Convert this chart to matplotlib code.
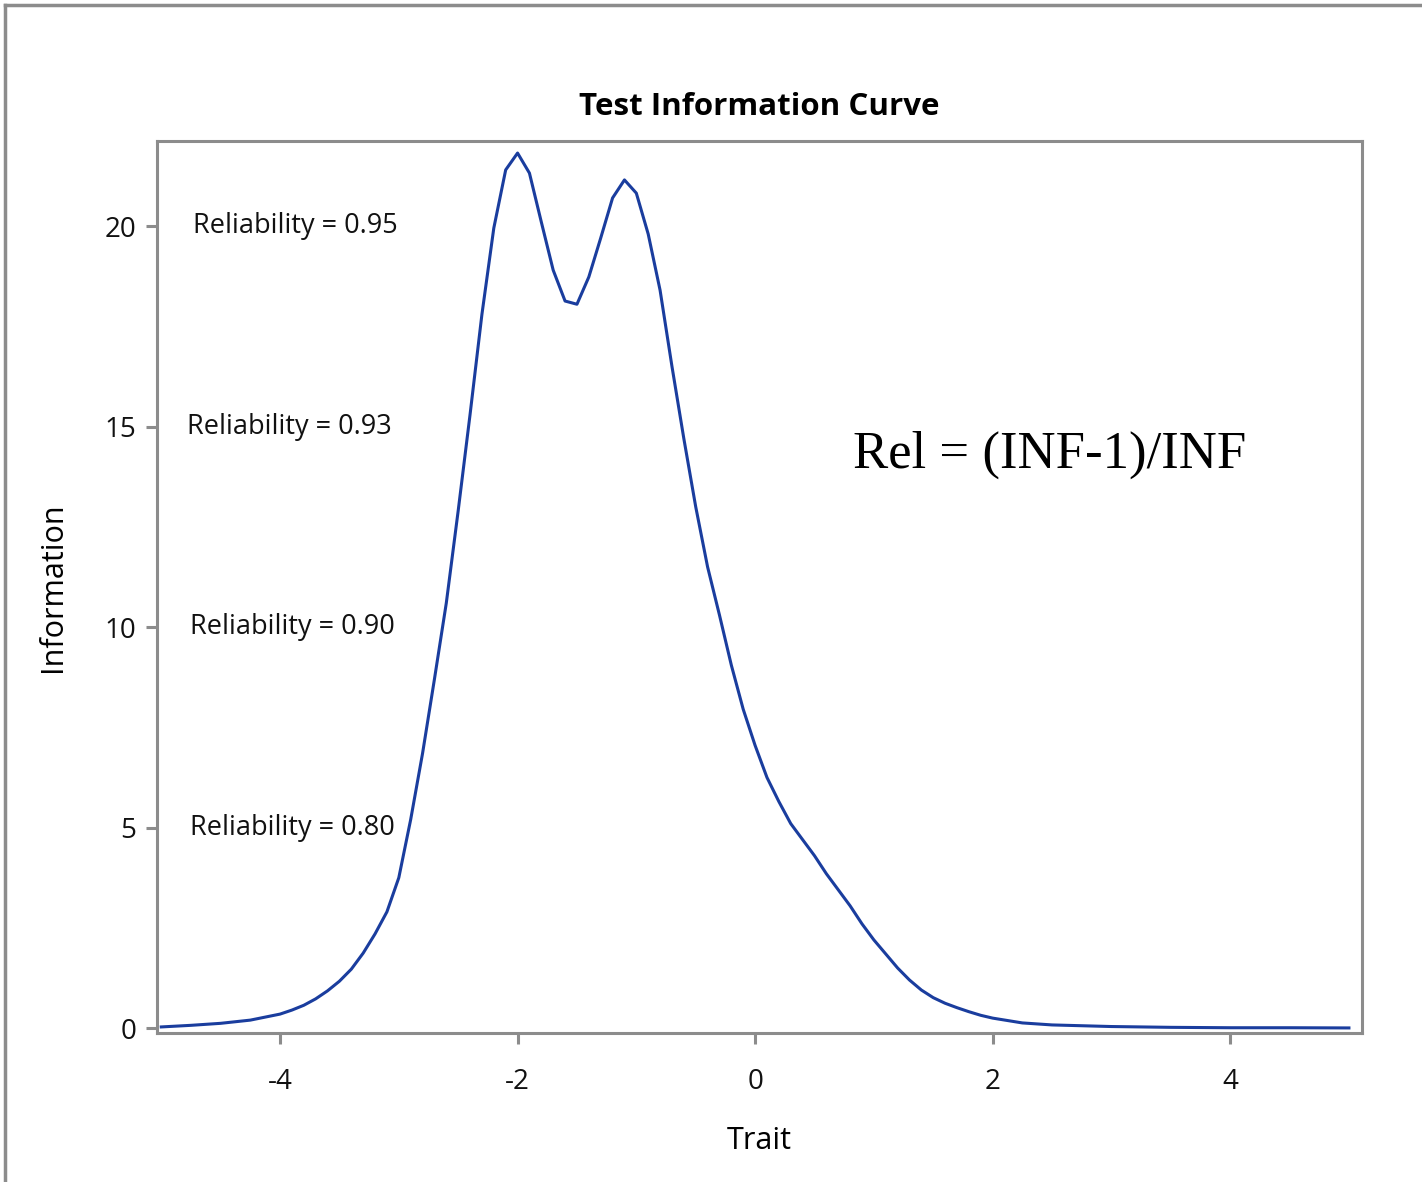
import matplotlib
matplotlib.use('Agg')
import matplotlib.pyplot as plt
from matplotlib.lines import Line2D

# trait grid and information values
trait = [-5.0, -4.75, -4.5, -4.25, -4.0, -3.9, -3.8, -3.7, -3.6, -3.5,
         -3.4, -3.3, -3.2, -3.1,
         -3.0, -2.9, -2.8, -2.7, -2.6, -2.5, -2.4, -2.3, -2.2, -2.1,
         -2.0, -1.9, -1.8, -1.7, -1.6, -1.5, -1.4, -1.3, -1.2, -1.1,
         -1.0, -0.9, -0.8, -0.7, -0.6, -0.5, -0.4, -0.3, -0.2, -0.1,
         0.0, 0.1, 0.2, 0.3, 0.4, 0.5, 0.6, 0.7, 0.8, 0.9,
         1.0, 1.1, 1.2, 1.3, 1.4, 1.5, 1.6, 1.7, 1.8, 1.9, 2.0, 2.25, 2.5,
         3.0, 3.5, 4.0, 4.5, 5.0]
information = [0.03, 0.07, 0.12, 0.2, 0.35, 0.45, 0.57, 0.73, 0.93, 1.17,
               1.47, 1.87, 2.35, 2.9,
               3.75, 5.2, 6.85, 8.7, 10.6, 12.9, 15.3, 17.8, 19.95, 21.4,
               21.82, 21.32, 20.1, 18.9, 18.13, 18.05, 18.73, 19.7, 20.7, 21.15,
               20.82, 19.8, 18.4, 16.5, 14.7, 13.0, 11.5, 10.3, 9.05, 7.95,
               7.05, 6.25, 5.65, 5.1, 4.7, 4.3, 3.85, 3.45, 3.05, 2.6,
               2.2, 1.85, 1.5, 1.2, 0.95, 0.76, 0.62, 0.51, 0.41, 0.32, 0.25, 0.13, 0.08,
               0.04, 0.02, 0.01, 0.01, 0.005]

rel_labels = ['Reliability = 0.95', 'Reliability = 0.93',
              'Reliability = 0.90', 'Reliability = 0.80']
rel_info = [20, 15, 10, 5]
rel_x = [-3.87, -3.92, -3.90, -3.90]

xticks = [-4, -2, 0, 2, 4]
yticks = [0, 5, 10, 15, 20]

plt.rcParams['font.family'] = ['Open Sans', 'DejaVu Sans']
grey = '#8c8c8c'

fig = plt.figure(figsize=(14.22, 11.82), dpi=100)
ax = fig.add_axes([0.1104, 0.1261, 0.8474, 0.7546])

ax.plot(trait, information, color='#1a3d9e', linewidth=2.2)

for lab, y, x in zip(rel_labels, rel_info, rel_x):
    ax.text(x, y, lab, ha='center', va='center', fontsize=19.5, color='#111111')

ax.text(0.741, 0.648, 'Rel = (INF-1)/INF', transform=ax.transAxes,
        ha='center', va='center', fontsize=38, family='Liberation Serif')

ax.set_xlim(-5.036, 5.11)
ax.set_ylim(-0.12, 22.12)
ax.set_xticks(xticks)
ax.set_yticks(yticks)
ax.set_xticklabels([str(t) for t in xticks])
ax.set_yticklabels([str(t) for t in yticks])

for s in ax.spines.values():
    s.set_color(grey)
    s.set_linewidth(2.2)
ax.tick_params(axis='both', direction='out', length=8, width=2.2, color=grey,
               labelsize=20, labelcolor='#111111')
ax.tick_params(axis='x', pad=17)
ax.tick_params(axis='y', pad=7)

ax.set_title('Test Information Curve', fontsize=22.5, fontweight='bold', pad=19)
ax.set_xlabel('Trait', fontsize=22, labelpad=22)
ax.set_ylabel('Information', fontsize=22, labelpad=26)

# outer frame, only left and top edges visible in the crop
fig.add_artist(Line2D([0.0035, 0.0035], [0, 0.996], color=grey, linewidth=2.5,
                      transform=fig.transFigure))
fig.add_artist(Line2D([0.0035, 1.0], [0.996, 0.996], color=grey, linewidth=2.5,
                      transform=fig.transFigure))

fig.savefig('out.png', dpi=100)
